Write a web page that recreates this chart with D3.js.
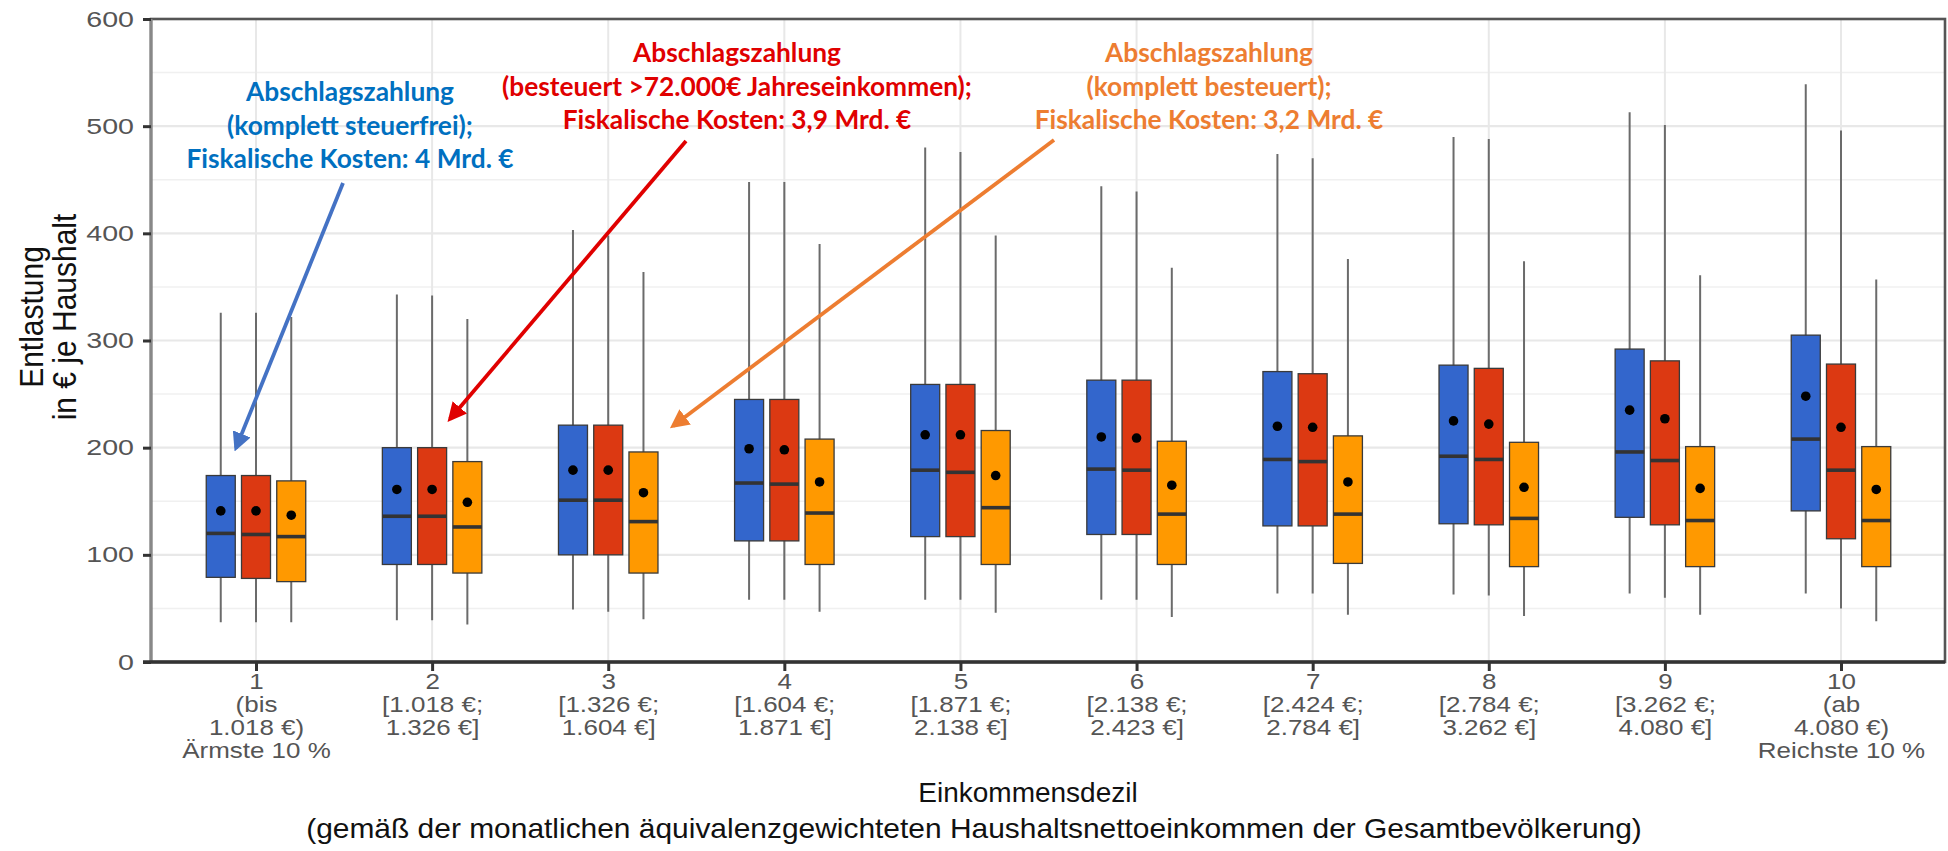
<!DOCTYPE html>
<html><head><meta charset="utf-8">
<script src="https://cdn.jsdelivr.net/npm/d3@7"></script>
<style>
html,body{margin:0;padding:0;background:#fff;}
svg{display:block;}
</style></head>
<body>
<svg id="chart" width="1948" height="851"></svg>
<script>
// ---------- data ----------
const categories = ["1","2","3","4","5","6","7","8","9","10"];
const categoryLabels = [
  ["1","(bis","1.018 €)","Ärmste 10 %"],
  ["2","[1.018 €;","1.326 €]"],
  ["3","[1.326 €;","1.604 €]"],
  ["4","[1.604 €;","1.871 €]"],
  ["5","[1.871 €;","2.138 €]"],
  ["6","[2.138 €;","2.423 €]"],
  ["7","[2.424 €;","2.784 €]"],
  ["8","[2.784 €;","3.262 €]"],
  ["9","[3.262 €;","4.080 €]"],
  ["10","(ab","4.080 €)","Reichste 10 %"]
];
const seriesKeys = ["steuerfrei","besteuert72k","komplettBesteuert"];
// per category: [lower whisker, q1, median, q3, upper whisker, mean]
const steuerfrei = [
  [37,79,120,174,326,141],[39,91,136,200,343,161],[49,100,151,221,403,179],
  [58,113,167,245,448,199],[58,117,179,259,480,212],[58,119,180,263,444,210],
  [64,127,189,271,474,220],[63,129,192,277,490,225],[64,135,196,292,513,235],
  [64,141,208,305,539,248]
];
const besteuert72k = [
  [37,78,119,174,326,141],[39,91,136,200,342,161],[47,100,151,221,398,179],
  [58,113,166,245,448,198],[58,117,177,259,476,212],[58,119,179,263,439,209],
  [64,127,187,269,470,219],[62,128,189,274,488,222],[60,128,188,281,501,227],
  [50,115,179,278,496,219]
];
const komplettBesteuert = [
  [37,75,117,169,322,137],[35,83,126,187,320,149],[40,83,131,196,364,158],
  [47,91,139,208,390,168],[46,91,144,216,398,174],[42,91,138,206,368,165],
  [44,92,138,211,376,168],[43,89,134,205,374,163],[44,89,132,201,361,162],
  [38,89,132,201,357,161]
];
const yTicks = [0,100,200,300,400,500,600];
const yMinor = [50,150,250,350,450,550];
const annotations = [
  {key:"steuerfrei", lines:["Abschlagszahlung","(komplett steuerfrei);","Fiskalische Kosten: 4 Mrd. €"]},
  {key:"besteuert72k", lines:["Abschlagszahlung","(besteuert >72.000€ Jahreseinkommen);","Fiskalische Kosten: 3,9 Mrd. €"]},
  {key:"komplettBesteuert", lines:["Abschlagszahlung","(komplett besteuert);","Fiskalische Kosten: 3,2 Mrd. €"]}
];
const yTitle = ["Entlastung","in € je Haushalt"];
const xTitle = "Einkommensdezil";
const xSubtitle = "(gemäß der monatlichen äquivalenzgewichteten Haushaltsnettoeinkommen der Gesamtbevölkerung)";

// ---------- styles ----------
const boxColors = {steuerfrei:"#3366CC", besteuert72k:"#DC3912", komplettBesteuert:"#FF9900"};
const noteColors = {steuerfrei:"#0070C0", besteuert72k:"#E00000", komplettBesteuert:"#ED7D31"};
const arrowColors = {steuerfrei:"#4472C4", besteuert72k:"#E00000", komplettBesteuert:"#ED7D31"};
const seriesData = {steuerfrei, besteuert72k, komplettBesteuert};
const FONT = "'Liberation Sans', Arial, Helvetica, sans-serif";

// ---------- layout ----------
const svg = d3.select("#chart");
const panel = {left:151, right:1945, top:19, bottom:662};
const x = d3.scalePoint().domain(categories).range([256,1841]);
const dodge = d3.scaleBand().domain(seriesKeys).range([-49.75,49.75]).paddingInner(0.177).paddingOuter(0);
const y = d3.scaleLinear().domain([0,600]).range([panel.bottom, panel.top]);
const bw = dodge.bandwidth();

svg.append("rect").attr("width",1948).attr("height",851).attr("fill","#fff");

// grid
const g = svg.append("g");
g.selectAll("line.minor").data(yMinor).join("line")
  .attr("x1",panel.left).attr("x2",panel.right)
  .attr("y1",d=>y(d)).attr("y2",d=>y(d))
  .attr("stroke","#f0f0f0").attr("stroke-width",1.5);
g.selectAll("line.major").data(yTicks).join("line")
  .attr("x1",panel.left).attr("x2",panel.right)
  .attr("y1",d=>y(d)).attr("y2",d=>y(d))
  .attr("stroke","#e8e8e8").attr("stroke-width",2.2);
g.selectAll("line.vgrid").data(categories).join("line")
  .attr("x1",d=>x(d)).attr("x2",d=>x(d))
  .attr("y1",panel.top).attr("y2",panel.bottom)
  .attr("stroke","#e8e8e8").attr("stroke-width",2);

// boxes
seriesKeys.forEach(key=>{
  const data = seriesData[key];
  const sg = svg.append("g");
  data.forEach((s,i)=>{
    const cx = x(categories[i]) + dodge(key) + bw/2;
    const [lo,q1,med,q3,hi,mean] = s;
    sg.append("line").attr("x1",cx).attr("x2",cx).attr("y1",y(lo)).attr("y2",y(hi))
      .attr("stroke","#6b6b6b").attr("stroke-width",2);
    sg.append("rect").attr("x",cx-bw/2).attr("width",bw)
      .attr("y",y(q3)).attr("height",y(q1)-y(q3))
      .attr("fill",boxColors[key]).attr("stroke","#3a3a3a").attr("stroke-width",1.3);
    sg.append("line").attr("x1",cx-bw/2).attr("x2",cx+bw/2).attr("y1",y(med)).attr("y2",y(med))
      .attr("stroke","#333").attr("stroke-width",3.6);
    sg.append("circle").attr("cx",cx).attr("cy",y(mean)).attr("r",4.8).attr("fill","#000");
  });
});

// panel border and axes lines
svg.append("rect").attr("x",panel.left).attr("y",panel.top)
  .attr("width",panel.right-panel.left).attr("height",panel.bottom-panel.top)
  .attr("fill","none").attr("stroke","#555").attr("stroke-width",2.6);
svg.append("line").attr("x1",panel.left).attr("x2",panel.left).attr("y1",panel.top).attr("y2",panel.bottom)
  .attr("stroke","#888").attr("stroke-width",3);
svg.append("line").attr("x1",panel.left-8).attr("x2",panel.right).attr("y1",panel.bottom).attr("y2",panel.bottom)
  .attr("stroke","#333").attr("stroke-width",3.6);

// y axis
const ySX = 1.3;
const yAxis = svg.append("g").attr("transform",`translate(${panel.left},0)`)
  .call(d3.axisLeft(y).tickValues(yTicks).tickSize(8).tickPadding(9));
yAxis.select(".domain").remove();
yAxis.selectAll(".tick line").attr("stroke","#333").attr("stroke-width",3);
yAxis.selectAll(".tick text").attr("fill","#555")
  .attr("x",-17/ySX).attr("transform",`scale(${ySX},1)`)
  .style("font-family",FONT).style("font-size","22px");

// x axis
const xSX = 1.18;
const xAxis = svg.append("g").attr("transform",`translate(0,${panel.bottom})`)
  .call(d3.axisBottom(x).tickSize(9).tickFormat(""));
xAxis.select(".domain").remove();
xAxis.selectAll(".tick line").attr("stroke","#333").attr("stroke-width",3);
xAxis.selectAll(".tick").each(function(d,i){
  const t = d3.select(this).append("text")
    .attr("text-anchor","middle").attr("fill","#555").attr("transform",`scale(${xSX},1)`)
    .style("font-family",FONT).style("font-size","22px");
  categoryLabels[i].forEach((ln,j)=>{
    t.append("tspan").attr("x",0).attr("y",27.5 + j*22.7).text(ln);
  });
});

// axis titles
svg.append("text").attr("x",1028).attr("y",802).attr("text-anchor","middle")
  .style("font-family",FONT).style("font-size","28px").attr("fill","#111")
  .text(xTitle);
svg.append("text").attr("transform","translate(974,838) scale(1.05,1)").attr("text-anchor","middle")
  .style("font-family",FONT).style("font-size","28.5px").attr("fill","#111")
  .text(xSubtitle);
const ySX2 = 1.1;
const yt = svg.append("text").attr("transform",`translate(0,317) scale(${ySX2},1) rotate(-90)`).attr("text-anchor","middle")
  .style("font-family",FONT).style("font-size","30px").attr("fill","#111");
[43,76].forEach((b,j)=>yt.append("tspan").attr("x",0).attr("y",b/ySX2).text(yTitle[j]));

// annotations
const notePos = {steuerfrei:[350,101], besteuert72k:[737,62], komplettBesteuert:[1209,62]};
annotations.forEach(a=>{
  const t = svg.append("text").attr("text-anchor","middle").attr("fill",noteColors[a.key])
    .style("font-family","Lato, 'Open Sans', sans-serif").style("font-weight","700").style("font-size","26.3px");
  a.lines.forEach((ln,j)=>t.append("tspan").attr("x",notePos[a.key][0]).attr("y",notePos[a.key][1]+j*33.5).text(ln));
});

// arrows
const defs = svg.append("defs");
seriesKeys.forEach(k=>{
  defs.append("marker").attr("id","arr-"+k).attr("viewBox","0 0 10 10").attr("refX",8).attr("refY",5)
    .attr("markerWidth",5).attr("markerHeight",5).attr("orient","auto")
    .append("path").attr("d","M0,0 L10,5 L0,10 z").attr("fill",arrowColors[k]);
});
const arrowPts = {steuerfrei:[[343,183],[236,448]], besteuert72k:[[686,141],[450,419]], komplettBesteuert:[[1054,140],[673,426]]};
seriesKeys.forEach(k=>{
  const [[x1,y1],[x2,y2]] = arrowPts[k];
  svg.append("line").attr("x1",x1).attr("y1",y1).attr("x2",x2).attr("y2",y2)
    .attr("stroke",arrowColors[k]).attr("stroke-width",3.8).attr("marker-end","url(#arr-"+k+")");
});
</script>
</body></html>
